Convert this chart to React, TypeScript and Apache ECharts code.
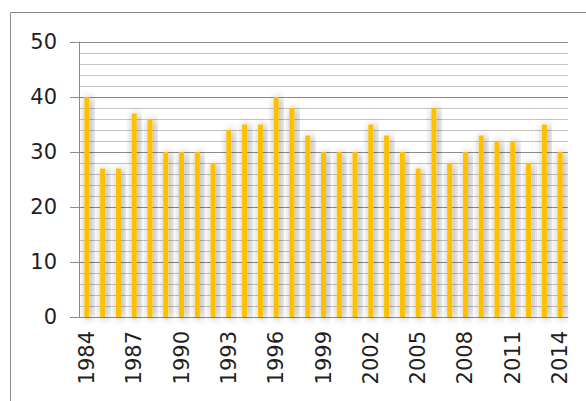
import React, { useEffect, useRef } from "react";
import * as echarts from "echarts";

const years: string[] = [
  "1984","1985","1986","1987","1988","1989","1990","1991","1992","1993","1994",
  "1995","1996","1997","1998","1999","2000","2001","2002","2003","2004","2005",
  "2006","2007","2008","2009","2010","2011","2012","2013","2014",
];
const values: number[] = [
  40, 27, 27, 37, 36, 30, 30, 30, 28, 34, 35,
  35, 40, 38, 33, 30, 30, 30, 35, 33, 30, 27,
  38, 28, 30, 33, 32, 32, 28, 35, 30,
];

export default function App() {
  const ref = useRef<HTMLDivElement>(null);
  useEffect(() => {
    if (!ref.current) return;
    const chart = echarts.init(ref.current, undefined, { renderer: "svg" });
    const font = "DejaVu Sans";
    chart.setOption({
      animation: false,
      backgroundColor: "#ffffff",
      textStyle: { fontFamily: font },
      graphic: [
        {
          type: "rect",
          shape: { x: 10.5, y: 12.5, width: 620, height: 420 },
          style: { fill: "none", stroke: "#8c8c8c", lineWidth: 1 },
          silent: true,
        },
      ],
      grid: { left: 79, right: 18, top: 42, bottom: 84, containLabel: false },
      xAxis: {
        type: "category",
        data: years,
        boundaryGap: true,
        axisLine: { show: true, lineStyle: { color: "#8c8c8c", width: 1 } },
        axisTick: { show: false },
        axisLabel: {
          rotate: 90,
          interval: 2,
          margin: 14,
          fontSize: 21,
          color: "#1f1f1f",
          fontFamily: font,
        },
        splitLine: { show: false },
      },
      yAxis: {
        type: "value",
        min: 0,
        max: 50,
        interval: 10,
        axisLine: { show: true, lineStyle: { color: "#8c8c8c", width: 1 } },
        axisTick: { show: true, length: 9, lineStyle: { color: "#8c8c8c" } },
        axisLabel: {
          margin: 22,
          fontSize: 21,
          color: "#1f1f1f",
          fontFamily: font,
        },
        splitLine: { show: true, lineStyle: { color: "#8c8c8c", width: 1 } },
        minorTick: { show: false, splitNumber: 5 },
        minorSplitLine: { show: true, lineStyle: { color: "#c4c4c4", width: 1 } },
      },
      series: [
        {
          type: "bar",
          data: values,
          barWidth: 5,
          itemStyle: {
            color: "#FFC000",
            shadowColor: "rgba(0,0,0,0.45)",
            shadowBlur: 9,
            shadowOffsetX: 2,
            shadowOffsetY: 1,
          },
        },
      ],
    });
    return () => chart.dispose();
  }, []);
  return (
    <div
      ref={ref}
      style={{ position: "fixed", left: 0, top: 0, width: 586, height: 401 }}
    />
  );
}
